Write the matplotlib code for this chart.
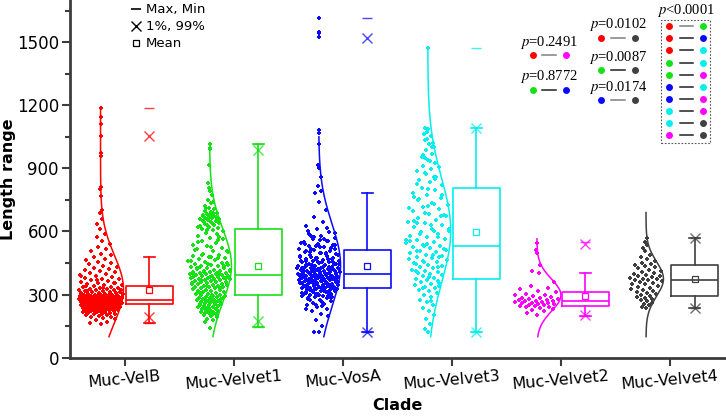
import numpy as np
import matplotlib.pyplot as plt
from matplotlib.lines import Line2D
from matplotlib.patches import Rectangle

plt.rcParams['font.family'] = ['DejaVu Sans']
plt.rcParams['mathtext.fontset'] = 'stix'

# =========================================================
# DATA
# =========================================================
clades = ["Muc-VelB", "Muc-Velvet1", "Muc-VosA", "Muc-Velvet3", "Muc-Velvet2", "Muc-Velvet4"]
colors = ["#ff0000", "#16e016", "#0a0aff", "#00f0f0", "#ff00ff", "#404040"]

velb = [162, 166, 171, 178, 183, 188, 192, 195, 198, 201, 203, 206, 208, 210, 212, 214, 215, 217, 219, 220,
        222, 223, 224, 226, 227, 228, 229, 231, 232, 233, 234, 235, 236, 237, 238, 239, 240, 241, 241, 242,
        243, 244, 244, 245, 246, 246, 247, 248, 248, 249, 249, 250, 250, 251, 251, 252, 252, 253, 253, 254,
        254, 255, 255, 256, 256, 257, 257, 258, 258, 259, 259, 260, 260, 261, 261, 262, 262, 263, 263, 264,
        264, 265, 265, 266, 266, 267, 267, 268, 268, 269, 269, 270, 270, 271, 271, 272, 272, 273, 273, 274,
        274, 275, 275, 276, 277, 278, 278, 279, 280, 281, 282, 283, 284, 285, 286, 287, 288, 289, 290, 291,
        292, 293, 294, 296, 297, 298, 300, 301, 303, 304, 306, 307, 309, 310, 312, 314, 316, 318, 320, 322,
        324, 326, 328, 330, 333, 335, 338, 341, 344, 347, 350, 353, 356, 360, 364, 368, 372, 376, 380, 384,
        388, 392, 396, 401, 405, 410, 415, 420, 426, 432, 438, 444, 450, 457, 464, 471, 478, 486, 495, 505,
        515, 527, 540, 556, 572, 590, 610, 635, 660, 690, 702, 767, 802, 811, 957, 971, 1056, 1113, 1145, 1188,
        228, 233, 237, 241, 245, 249, 252, 255, 258, 261, 264, 267, 270, 273, 276, 279, 282, 285, 288, 292,
        296, 300, 305, 312, 320, 330, 342, 355, 370, 390, 225, 231, 243, 257, 263, 269, 277, 287, 299, 315]

velvet1 = [143, 171, 178, 186, 193, 199, 204, 207, 212, 215, 219, 221, 224, 228, 231, 233, 236, 240, 243, 245,
           248, 251, 253, 256, 258, 262, 263, 266, 268, 271, 272, 275, 278, 279, 282, 284, 287, 290, 292, 295,
           297, 300, 302, 305, 308, 310, 313, 315, 318, 321, 324, 326, 329, 331, 334, 336, 338, 341, 343, 345,
           347, 349, 351, 353, 356, 358, 360, 362, 364, 366, 368, 370, 372, 374, 376, 378, 380, 382, 384, 386,
           388, 390, 392, 394, 396, 398, 400, 402, 404, 407, 409, 412, 414, 417, 419, 422, 425, 428, 431, 434,
           437, 440, 443, 447, 451, 455, 459, 463, 468, 473, 478, 483, 489, 495, 501, 508, 515, 522, 530, 538,
           546, 554, 562, 570, 578, 586, 594, 601, 607, 613, 618, 623, 628, 632, 636, 640, 644, 648, 651, 655,
           658, 662, 665, 668, 672, 675, 679, 683, 687, 692, 698, 705, 713, 722, 735, 750, 775, 790, 829, 990,
           998, 1016,
           205, 214, 226, 238, 249, 261, 274, 286, 298, 311, 327, 339, 352, 361, 369, 377, 385, 393, 399, 405,
           411, 418, 426, 436, 446, 458, 472, 488, 505, 525, 548, 575, 605, 621, 634, 646, 657, 667, 677, 690,
           232, 257, 281, 306, 333, 357, 381, 403, 429, 452, 480, 512, 560, 630, 660, 685, 710, 740, 805, 915]

vosa = [121, 124, 150, 178, 196, 210, 222, 232, 241, 249, 256, 262, 268, 273, 278, 283, 287, 291, 295, 299,
        302, 305, 308, 311, 314, 317, 319, 322, 324, 327, 329, 331, 333, 335, 337, 339, 341, 343, 345, 347,
        349, 351, 353, 355, 357, 359, 361, 363, 365, 367, 368, 370, 372, 374, 376, 377, 379, 381, 383, 385,
        386, 388, 390, 392, 394, 396, 397, 399, 401, 403, 405, 407, 409, 411, 413, 415, 417, 419, 421, 424,
        426, 428, 431, 433, 436, 438, 441, 444, 447, 450, 453, 456, 459, 462, 465, 469, 472, 476, 480, 484,
        488, 492, 497, 502, 507, 513, 518, 524, 530, 536, 542, 549, 556, 563, 571, 579, 588, 598, 610, 625,
        645, 670, 700, 740, 781, 790, 818, 859, 900, 918, 1018, 1070, 1080, 1524, 1545, 1549, 1616,
        285, 293, 301, 309, 316, 323, 330, 336, 342, 348, 354, 360, 366, 371, 376, 381, 386, 391, 396, 401,
        406, 411, 416, 422, 428, 434, 440, 447, 454, 461, 469, 478, 487, 497, 508, 520, 533, 547, 562, 580,
        290, 298, 306, 313, 320, 326, 332, 338, 344, 350, 356, 362, 368, 373, 378, 383, 388, 393, 398, 403,
        408, 414, 420, 426, 432, 439, 446, 453, 460, 468, 476, 485, 494, 504, 515, 527, 540, 555, 572, 595,
        265, 275, 288, 297, 304, 312, 318, 325, 331, 337, 343, 349, 355, 363, 371, 379, 387, 395, 404, 412,
        420, 430, 442, 455, 470, 485, 500, 518, 537, 560, 600, 615, 250, 232, 245]

velvet3 = [122, 135, 160, 185, 205, 222, 238, 252, 265, 276, 287, 297, 306, 315, 323, 331, 338, 345, 352, 358,
           364, 370, 375, 380, 386, 391, 396, 401, 407, 412, 418, 424, 430, 436, 442, 448, 454, 460, 466, 472,
           478, 484, 490, 496, 502, 508, 514, 520, 526, 532, 538, 545, 552, 559, 566, 573, 580, 588, 596, 604,
           612, 620, 629, 638, 647, 656, 665, 675, 685, 695, 705, 715, 726, 737, 748, 760, 772, 784, 796, 808,
           820, 833, 846, 859, 872, 885, 898, 912, 926, 940, 955, 970, 985, 1000, 1018, 1036, 1055, 1075, 1092, 1473,
           330, 355, 385, 410, 433, 455, 470, 488, 505, 518, 540, 556, 575, 590, 610, 632, 650, 672, 690, 712,
           730, 752, 775, 800, 825, 850, 880, 905, 935, 965, 1000, 1040, 1065, 270, 300, 342, 398, 445, 480, 530,
           560, 600, 640, 680, 720, 765, 860, 950, 1020, 1085]

velvet2 = [203, 212, 220, 228, 232, 236, 240, 243, 246, 248, 250, 252, 254, 256, 258, 260, 262, 264, 266, 268,
           270, 271, 273, 275, 277, 279, 282, 285, 288, 292, 296, 300, 305, 310, 318, 325, 332, 340, 360, 403,
           410, 441, 498, 510, 546]

velvet4 = [235, 242, 250, 256, 262, 268, 274, 280, 285, 290, 294, 298, 302, 307, 312, 318, 323, 328, 333, 338,
           343, 348, 352, 356, 360, 364, 367, 369, 372, 375, 378, 382, 386, 390, 394, 398, 403, 408, 413, 418,
           424, 430, 436, 440, 446, 452, 460, 468, 478, 490, 505, 520, 538, 552, 569]

groups = [velb, velvet1, vosa, velvet3, velvet2, velvet4]

# box statistics
box_q1 = [254, 297, 329, 373, 248, 294]
box_med = [275, 394, 397, 532, 271, 369]
box_q3 = [341, 613, 513, 807, 310, 440]
box_mean = [322, 435, 435, 597, 295, 375]
whisk_lo = [164, 145, 121, 122, 200, 235]
whisk_hi = [478, 1016, 781, 1092, 402, 569]
pct1 = [195, 176, 121, 122, 203, 235]
pct99 = [1056, 989, 1521, 1092, 540, 569]
val_min = [164, 145, 121, 122, 200, 235]
val_max = [1188, 1016, 1616, 1473, 548, 569]

# distribution curve extent and width
curve_lo = [100, 100, 100, 100, 100, 100]
curve_hi = [1188, 1010, 1050, 1470, 565, 690]
curve_w = [0.21, 0.20, 0.20, 0.21, 0.22, 0.16]

# p-value annotations
pair_texts = ["$p$=0.2491", "$p$=0.8772", "$p$=0.0102", "$p$=0.0087", "$p$=0.0174"]
pair_a = [0, 1, 0, 1, 2]
pair_b = [4, 2, 5, 5, 5]
pair_grey = [True, False, True, False, True]
sig_a = [0, 0, 0, 1, 1, 2, 2, 3, 3, 4]
sig_b = [1, 2, 3, 3, 4, 3, 4, 4, 5, 5]


def normal_shape(y, mu, sd):
    return np.exp(-0.5 * ((y - mu) / sd) ** 2)


# =========================================================
# PLOT
# =========================================================
fig = plt.figure(figsize=(7.26, 4.16), dpi=100)
ax = fig.add_axes([0.0964, 0.1401, 0.9016, 0.8599])

pos = np.arange(1, len(clades) + 1)
base_off = -0.22
box_off = 0.225

for i, vals in enumerate(groups):
    v = np.array(vals, dtype=float)
    mu, sd = v.mean(), v.std()
    base = pos[i] + base_off
    c = colors[i]

    # jittered points inside the density envelope
    k = np.arange(len(v))
    s = 2 * ((0.5 + k * 0.6180339887) % 1.0) - 1
    xs = base + curve_w[i] * normal_shape(v, mu, sd) * s
    ax.scatter(xs, v, s=10, marker='P', color=c, linewidths=0, zorder=3)

    # half violin curve
    yy = np.linspace(curve_lo[i], curve_hi[i], 300)
    ax.plot(base + curve_w[i] * normal_shape(yy, mu, sd), yy, color=c, lw=1.1, zorder=2)

stats = []
for i in range(len(clades)):
    stats.append(dict(med=box_med[i], q1=box_q1[i], q3=box_q3[i],
                      whislo=whisk_lo[i], whishi=whisk_hi[i],
                      mean=box_mean[i], fliers=[]))

bp = ax.bxp(stats, positions=pos + box_off, widths=0.43, capwidths=0.1,
            showmeans=True, patch_artist=False, manage_ticks=False)
for i in range(len(clades)):
    c = colors[i]
    bp['boxes'][i].set(color=c, lw=1.2)
    bp['medians'][i].set(color=c, lw=1.2)
    for j in (2 * i, 2 * i + 1):
        bp['whiskers'][j].set(color=c, lw=1.2)
        bp['caps'][j].set(color=c, lw=1.2)
    bp['means'][i].set(marker='s', markerfacecolor='none', markeredgecolor=c,
                       markersize=5, markeredgewidth=0.9)

xb = pos + box_off
for i in range(len(clades)):
    c = colors[i]
    ax.plot([xb[i], xb[i]], [pct1[i], pct99[i]], ls='none', marker='x', ms=7, mew=1.0,
            color=c, alpha=0.75, zorder=4)
    ax.plot([xb[i], xb[i]], [val_min[i], val_max[i]], ls='none', marker='_', ms=7, mew=1.0,
            color=c, alpha=0.75, zorder=4)

# axes styling
ax.set_xlim(0.5, 6.5)
ax.set_ylim(0, 1700)
ax.set_yticks(np.arange(0, 1501, 300))
ax.set_yticks(np.arange(150, 1700, 300), minor=True)
ax.set_xticks(pos)
ax.set_xticklabels(clades, rotation=5, fontsize=11.5)
ax.tick_params(axis='y', labelsize=12, length=6, width=1.5, color='#3c3c3c', pad=2)
ax.tick_params(axis='y', which='minor', length=3.5, width=1.5, color='#3c3c3c')
ax.tick_params(axis='x', length=6, width=1.5, color='#3c3c3c', pad=2)
for side in ('top', 'right'):
    ax.spines[side].set_visible(False)
for side in ('left', 'bottom'):
    ax.spines[side].set_linewidth(2)
    ax.spines[side].set_color('#3c3c3c')

ax.set_ylabel("Length range", fontsize=11.5, fontweight='bold')
ax.yaxis.set_label_coords(-0.082, 0.5)
ax.set_xlabel("Clade", fontsize=11.5, fontweight='bold')
ax.xaxis.set_label_coords(0.5, -0.112)

# legend
handles = [Line2D([], [], ls='none', marker='_', color='k', ms=7, mew=1.2),
           Line2D([], [], ls='none', marker='x', color='k', ms=7, mew=1.0),
           Line2D([], [], ls='none', marker='s', mfc='none', mec='k', ms=5, mew=0.9)]
ax.legend(handles, ["Max, Min", "1%, 99%", "Mean"], loc='upper left',
          bbox_to_anchor=(0.085, 1.005), frameon=False, fontsize=9.5,
          handlelength=0.8, handletextpad=0.35, labelspacing=0.3, borderaxespad=0)

# p-value annotations
serif = 'Liberation Serif'
pair_x = [4.74, 4.74, 5.37, 5.37, 5.37]
pair_y = [1437, 1273, 1521, 1365, 1224]
pair_dx = 0.305
for t, xa, ya, a, b, g in zip(pair_texts, pair_x, pair_y, pair_a, pair_b, pair_grey):
    ax.text(xa + pair_dx / 2, ya + 62, t, family=serif, fontsize=10.5, ha='center', va='center')
    ax.plot([xa + 0.09, xa + pair_dx - 0.09], [ya, ya], color='#808080' if g else '#202020', lw=1.1)
    ax.plot([xa], [ya], marker='o', ms=5, color=colors[a], mec='none', ls='none')
    ax.plot([xa + pair_dx], [ya], marker='o', ms=5, color=colors[b], mec='none', ls='none')

ax.text(6.15, 1648, "$p$<0.0001", family=serif, fontsize=10.5, ha='center', va='center')
ax.add_patch(Rectangle((5.92, 1021), 0.448, 584, fill=False, ls=(0, (1.5, 1.5)),
                       lw=0.8, ec='#555555'))
for r, (a, b) in enumerate(zip(sig_a, sig_b)):
    yr = 1576 - r * 57.7
    ax.plot([6.09, 6.21], [yr, yr], color='#808080' if r == 0 else '#202020', lw=1.1)
    ax.plot([5.995], [yr], marker='o', ms=5, color=colors[a], mec='none', ls='none')
    ax.plot([6.30], [yr], marker='o', ms=5, color=colors[b], mec='none', ls='none')

fig.savefig("out.png", dpi=100)
